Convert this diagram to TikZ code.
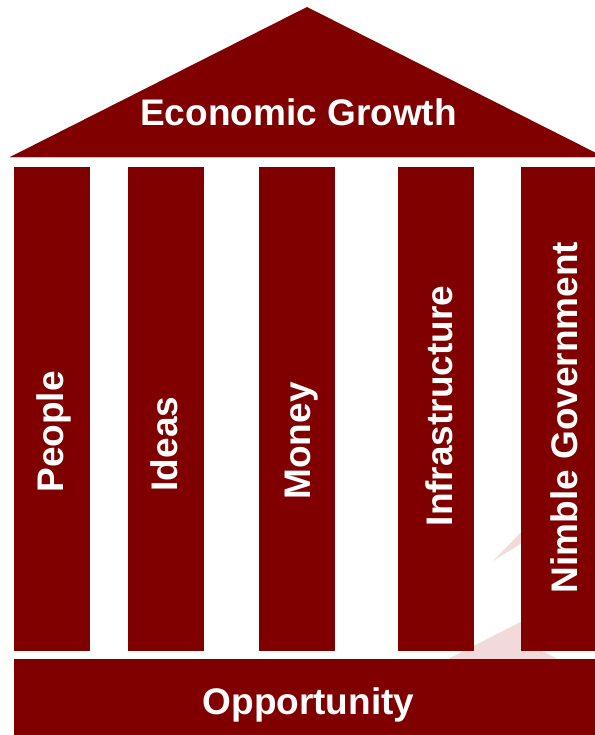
\documentclass[tikz,border=0pt]{standalone}
\usepackage{fontspec}
\setmainfont{Liberation Sans}
\definecolor{maroon}{HTML}{800000}
\definecolor{wmark}{HTML}{F2DADA}
\definecolor{edge}{HTML}{E6B8B8}
\tikzset{
  pillar/.style={fill=maroon, draw=none, inner sep=0pt, outer sep=0pt, minimum width=76pt, minimum height=484pt},
  basebox/.style={fill=maroon, draw=none, inner sep=0pt, outer sep=0pt, minimum width=586pt, minimum height=76pt},
  lbl/.style={text=white, font=\fontsize{37}{40}\selectfont\bfseries, inner sep=0pt, anchor=base},
  vlbl/.style={lbl, rotate=90}
}
\begin{document}
\begin{tikzpicture}[x=1pt,y=-1pt]
\useasboundingbox (0,0) rectangle (594,735);
% faint watermark shapes behind
\fill[wmark] (493,561) -- (530,523) -- (530,538) -- cycle;
\fill[wmark] (446,660) -- (540,612) -- (540,650) -- (560,660) -- cycle;
% roof
\fill[maroon] (10,157) -- (307,7) -- (604,157) -- cycle;
\draw[edge, line width=1pt] (10,157.5) -- (594,157.5);
\node[lbl] (roof) at (298.5,126) {Economic Growth};
% pillars
\node[pillar] (p1) at (52,409) {};
\node[pillar] (p2) at (166,409) {};
\node[pillar] (p3) at (297,409) {};
\node[pillar] (p4) at (436,409) {};
\node[pillar] (p5) at (559,409) {};
\node[vlbl] (t1) at (63,432) {People};
\node[vlbl] (t2) at (177,444) {Ideas};
\node[vlbl] (t3) at (310,441) {Money};
\node[vlbl] (t4) at (452.5,406) {Infrastructure};
\node[vlbl] (t5) at (577,417.5) {Nimble Government};
% base
\node[basebox] (base) at (307,697) {};
\node[lbl] (opp) at (308.5,714) {Opportunity};
\end{tikzpicture}
\end{document}
